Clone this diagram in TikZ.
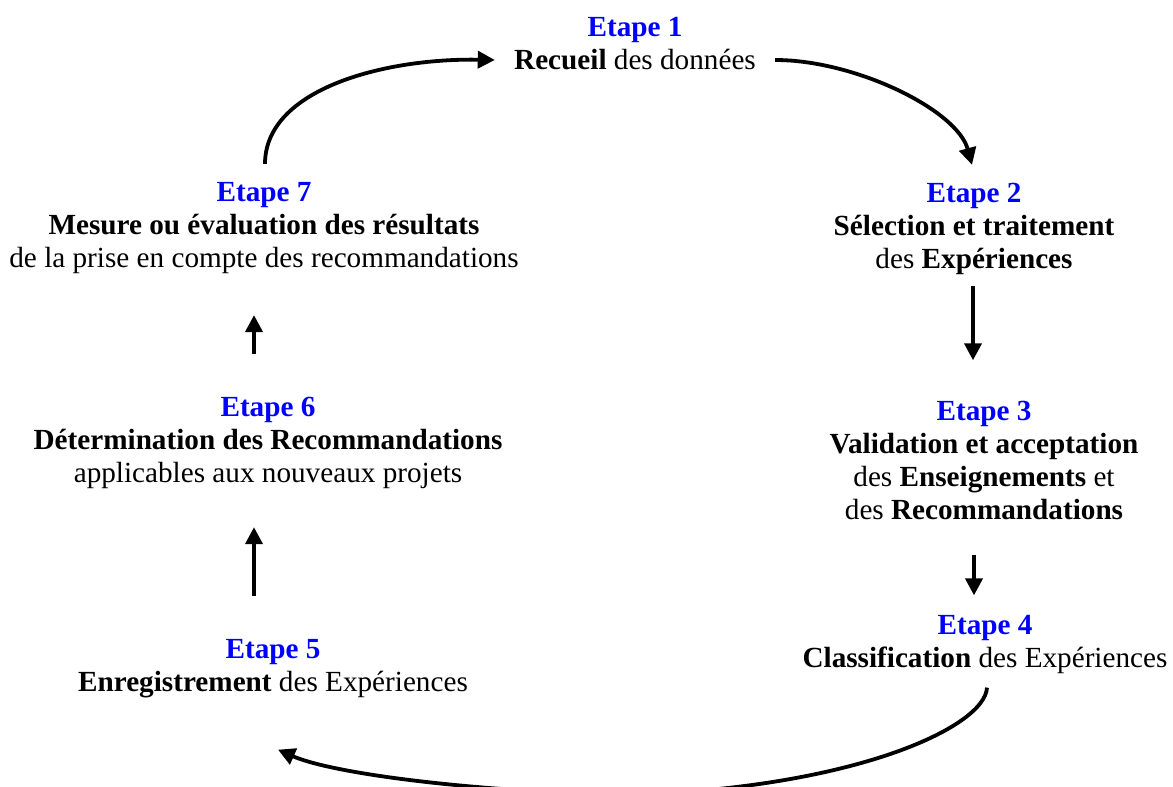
\documentclass[tikz,border=0pt]{standalone}
\usepackage{fontspec}
\setmainfont{Liberation Serif}
\usetikzlibrary{arrows.meta,calc}
\newcommand\stepname[1]{\textcolor{blue}{\textbf{Etape #1}}}
\begin{document}
\begin{tikzpicture}[x=0.5pt,y=-0.5pt,
  stepnode/.style={align=center,inner sep=0pt,font=\fontsize{14.6}{16.5}\selectfont},
  flow/.style={line width=1.9pt,-{Triangle[width=8.5pt,length=8.5pt]}},
]
\clip (0,0) rectangle (1173,787);

% the seven steps of the cycle
\node[stepnode] (n1) at (635,44)  {\stepname{1}\\\textbf{Recueil} des données};
\node[stepnode] (n2) at (974,229) {\stepname{2}\\\textbf{Sélection et traitement}\\des \textbf{Expériences}};
\node[stepnode] (n3) at (984,460) {\stepname{3}\\\textbf{Validation et acceptation}\\des \textbf{Enseignements} et\\des \textbf{Recommandations}};
\node[stepnode] (n4) at (985,644) {\stepname{4}\\\textbf{Classification} des Expériences};
\node[stepnode] (n5) at (273,669) {\stepname{5}\\\textbf{Enregistrement} des Expériences};
\node[stepnode] (n6) at (268,443) {\stepname{6}\\\textbf{Détermination des Recommandations}\\applicables aux nouveaux projets};
\node[stepnode] (n7) at (264,228) {\stepname{7}\\\textbf{Mesure ou évaluation des résultats}\\de la prise en compte des recommandations};

% curved transitions
\draw[flow] ($(n7.north)+(1,-18)$) .. controls +(0,-75) and +(-110,-2) .. ($(n1.west)+(-19,16)$);
\draw[flow] ($(n1.east)+(19,16)$) .. controls +(80,0) and +(-15,-55) .. ($(n2.north)+(-2,-18)$);
\draw[flow] ($(n4.south)+(2,14)$) .. controls +(-2,40) and +(230,-5) .. (620,795)
            .. controls +(-170,-5) and +(50,22) .. ($(n5.south)+(5,51)$);

% straight transitions
\draw[flow] ($(n2.south)+(-1,11)$) -- ($(n2.south |- n3.north)+(-1,-40)$);
\draw[flow] ($(n3.south)+(-10,35)$) -- ($(n3.south |- n4.north)+(-10,-19)$);
\draw[flow] ($(n5.north)+(-19,-43)$) -- ($(n5.north |- n6.south)+(-19,38)$);
\draw[flow] ($(n6.north)+(-14,-43)$) -- ($(n6.north |- n7.south)+(-14,41)$);
\end{tikzpicture}
\end{document}
